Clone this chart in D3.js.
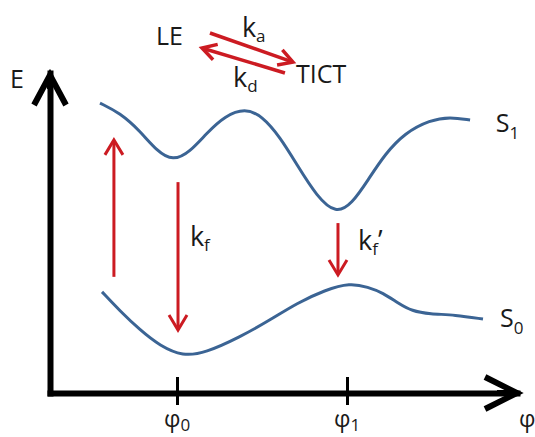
<!DOCTYPE html>
<html>
<head>
<meta charset="utf-8">
<script src="https://cdn.jsdelivr.net/npm/d3@7"></script>
<style>
  body { margin: 0; background: #fff; }
  text { font-family: "Open Sans", "Liberation Sans", sans-serif; fill: #1a1a1a; }
</style>
</head>
<body>
<svg id="chart" width="535" height="437"></svg>
<script>
// torsion coordinate phi (phi0 = 1, phi1 = 2) and energy E
const phiTicks = [1, 2];
const phiTickSubs = [`0`, `1`];

const s1Phi = [0.547, 0.665, 0.782, 0.882, 0.976, 1.076, 1.176, 1.282, 1.4, 1.5, 1.606, 1.706, 1.824, 1.935, 2.029, 2.124, 2.224, 2.341, 2.488, 2.606, 2.724];
const s1E   = [9.06, 8.75, 8.19, 7.56, 7.25, 7.53, 8.13, 8.66, 8.9, 8.66, 8.0, 7.13, 6.13, 5.6, 5.91, 6.66, 7.47, 8.13, 8.53, 8.63, 8.53];

const s0Phi = [0.559, 0.665, 0.782, 0.9, 1.035, 1.165, 1.371, 1.547, 1.706, 1.871, 2.018, 2.124, 2.212, 2.3, 2.382, 2.488, 2.635, 2.8];
const s0E   = [3.16, 2.56, 1.97, 1.47, 1.15, 1.25, 1.75, 2.28, 2.81, 3.22, 3.44, 3.31, 3.13, 2.81, 2.56, 2.47, 2.44, 2.31];

// vertical transitions: absorption, fluorescence kf, fluorescence kf'
const transPhi  = [0.629, 1.006, 1.947];
const transFrom = [3.63, 6.59, 5.31];
const transTo   = [7.91, 1.97, 3.69];

// LE <-> TICT equilibrium arrows
const eqFromPhi = [1.194, 1.635];
const eqFromE   = [11.25, 10.0];
const eqToPhi   = [1.682, 1.147];
const eqToE     = [10.34, 10.78];

const svg = d3.select(`#chart`);
const blue = `#3b6494`;
const red = `#cc1b22`;

const x = d3.scaleLinear().domain([0.253, 3.0]).range([50, 517]);
const y = d3.scaleLinear().domain([0, 10]).range([393, 73]);

const line = d3.line()
    .x(d => x(d[0]))
    .y(d => y(d[1]))
    .curve(d3.curveBasis);

// chevron arrow from (x1,y1) to (x2,y2)
const arrow = (g, x1, y1, x2, y2, len, half, w, color) => {
    const a = Math.atan2(y2 - y1, x2 - x1);
    const bx = x2 - len * Math.cos(a), by = y2 - len * Math.sin(a);
    const nx = -Math.sin(a) * half, ny = Math.cos(a) * half;
    g.append(`line`)
        .attr(`x1`, x1).attr(`y1`, y1)
        .attr(`x2`, x2 - 1.5 * Math.cos(a)).attr(`y2`, y2 - 1.5 * Math.sin(a))
        .attr(`stroke`, color).attr(`stroke-width`, w);
    g.append(`polyline`)
        .attr(`points`, `${bx + nx},${by + ny} ${x2},${y2} ${bx - nx},${by - ny}`)
        .attr(`fill`, `none`).attr(`stroke`, color).attr(`stroke-width`, w)
        .attr(`stroke-linejoin`, `miter`);
};

// axes
const xAxis = d3.axisBottom(x).tickValues(phiTicks).tickSizeInner(12).tickSizeOuter(0).tickFormat(``);
const gx = svg.append(`g`).attr(`transform`, `translate(0,${y(0)})`).call(xAxis);
gx.select(`.domain`).attr(`stroke`, `#000`).attr(`stroke-width`, 6).attr(`stroke-linecap`, `square`);
gx.selectAll(`.tick line`).attr(`y1`, -16).attr(`stroke`, `#000`).attr(`stroke-width`, 3);
gx.selectAll(`.tick text`).remove();

const yAxis = d3.axisLeft(y).tickValues([]).tickSizeOuter(0);
const gy = svg.append(`g`).attr(`transform`, `translate(${x.range()[0]},0)`).call(yAxis);
gy.select(`.domain`).attr(`stroke`, `#000`).attr(`stroke-width`, 6).attr(`stroke-linecap`, `square`);

const axisHeads = svg.append(`g`);
arrow(axisHeads, x.range()[1] - 20, y(0), x.range()[1], y(0), 32, 16, 6, `#000`);
arrow(axisHeads, x.range()[0], y(9.5), x.range()[0], y.range()[1] + 2, 30, 16, 6, `#000`);

// tick labels phi0, phi1
phiTicks.forEach((p, i) => {
    const t = svg.append(`text`)
        .attr(`x`, x(p) - 13).attr(`y`, 427)
        .attr(`font-size`, 23)
        .text(`φ`);
    t.append(`tspan`).attr(`font-size`, 17).attr(`dy`, 4).text(phiTickSubs[i]);
});
svg.append(`text`).attr(`x`, x.range()[1] + 2).attr(`y`, 427).attr(`font-size`, 23).text(`φ`);
svg.append(`text`).attr(`x`, 10).attr(`y`, 88).attr(`font-size`, 25).text(`E`);

// potential energy curves
svg.append(`path`)
    .datum(d3.zip(s1Phi, s1E))
    .attr(`d`, line)
    .attr(`fill`, `none`).attr(`stroke`, blue).attr(`stroke-width`, 3);
svg.append(`path`)
    .datum(d3.zip(s0Phi, s0E))
    .attr(`d`, line)
    .attr(`fill`, `none`).attr(`stroke`, blue).attr(`stroke-width`, 3);

const stateLabel = (txt, sub, px, py) => {
    const t = svg.append(`text`).attr(`x`, px).attr(`y`, py).attr(`font-size`, 25).text(txt);
    t.append(`tspan`).attr(`font-size`, 17).attr(`dy`, 7).text(sub);
};
stateLabel(`S`, `1`, x(2.875), y(8.16));
stateLabel(`S`, `0`, x(2.9), y(2.06));

// transitions
const trans = svg.append(`g`);
transPhi.forEach((p, i) => {
    arrow(trans, x(p), y(transFrom[i]), x(p), y(transTo[i]), 15, 9, 3, red);
});

const rateLabel = (sub, prime, px, py) => {
    const t = svg.append(`text`).attr(`x`, px).attr(`y`, py).attr(`font-size`, 27).text(`k`);
    t.append(`tspan`).attr(`font-size`, 17).attr(`dy`, 5).text(sub);
    if (prime) t.append(`tspan`).attr(`font-size`, 27).attr(`dy`, -5).text(`’`);
};
rateLabel(`f`, false, x(1.076), y(4.59));
rateLabel(`f`, true, x(2.065), y(4.47));

// LE / TICT equilibrium
svg.append(`text`).attr(`x`, x(0.876)).attr(`y`, y(10.875)).attr(`font-size`, 25).text(`LE`);
svg.append(`text`).attr(`x`, x(1.7)).attr(`y`, y(9.69)).attr(`font-size`, 25).text(`TICT`);
const eq = svg.append(`g`);
eqFromPhi.forEach((p, i) => {
    arrow(eq, x(p), y(eqFromE[i]), x(eqToPhi[i]), y(eqToE[i]), 14, 8, 3.5, red);
});
rateLabel(`a`, false, x(1.382), y(11.125));
rateLabel(`d`, false, x(1.33), y(9.56));
</script>
</body>
</html>
